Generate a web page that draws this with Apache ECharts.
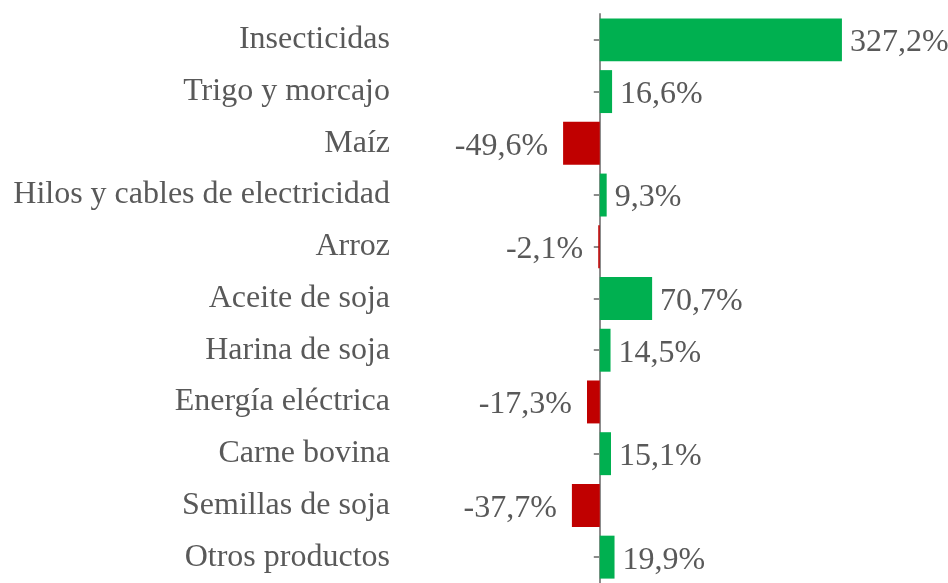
<!DOCTYPE html>
<html>
<head>
<meta charset="utf-8">
<script src="https://cdn.jsdelivr.net/npm/echarts@6/dist/echarts.min.js"></script>
<style>
  html, body { margin: 0; padding: 0; background: #fff; }
  #chart { width: 948px; height: 583px; }
</style>
</head>
<body>
<div id="chart"></div>
<script>
// datos
const categories = [
  "Insecticidas",
  "Trigo y morcajo",
  "Maíz",
  "Hilos y cables de electricidad",
  "Arroz",
  "Aceite de soja",
  "Harina de soja",
  "Energía eléctrica",
  "Carne bovina",
  "Semillas de soja",
  "Otros productos",
];
const values = [327.2, 16.6, -49.6, 9.3, -2.1, 70.7, 14.5, -17.3, 15.1, -37.7, 19.9];

const GREEN = "#00b050";
const RED = "#c00000";
const TEXT = "#595959";
const AXIS = "#8c8c8c";
const FONT = "Liberation Serif";

const myChart = echarts.init(document.getElementById("chart"));

const fmt = (v) => v.toFixed(1).replace(".", ",") + "%";

const option = {
  animation: false,
  textStyle: { fontFamily: FONT },
  grid: {
    left: 400,
    top: 14,
    width: 444,
    height: 575,
    containLabel: false,
  },
  xAxis: {
    type: "value",
    min: -270,
    max: 330,
    show: false,
  },
  yAxis: [
    {
      // etiquetas de categorias
      type: "category",
      position: "left",
      data: categories,
      inverse: true,
      axisLine: { show: false, onZero: false },
      axisTick: { show: false },
      axisLabel: {
        color: TEXT,
        fontSize: 32,
        fontFamily: FONT,
        margin: 10,
        padding: [5, 0, 0, 0],
      },
    },
    {
      // eje en cero
      type: "category",
      position: "left",
      data: categories,
      inverse: true,
      axisLine: {
        show: true,
        onZero: true,
        lineStyle: { color: AXIS, width: 2 },
      },
      axisTick: {
        show: true,
        alignWithLabel: true,
        length: 6,
        lineStyle: { color: AXIS, width: 2 },
      },
      axisLabel: { show: false },
    },
  ],
  series: [
    {
      type: "bar",
      yAxisIndex: 0,
      barCategoryGap: "17%",
      data: values.map((v) => ({
        value: v,
        itemStyle: { color: v >= 0 ? GREEN : RED },
        label: {
          position: v >= 0 ? "right" : "left",
          distance: v >= 0 ? 8 : 15,
        },
      })),
      label: {
        show: true,
        color: TEXT,
        fontSize: 32,
        fontFamily: FONT,
        offset: [0, 3],
        formatter: (p) => fmt(p.value),
      },
    },
  ],
};

myChart.setOption(option);
window.onresize = function () {
  myChart.resize();
};
</script>
</body>
</html>
